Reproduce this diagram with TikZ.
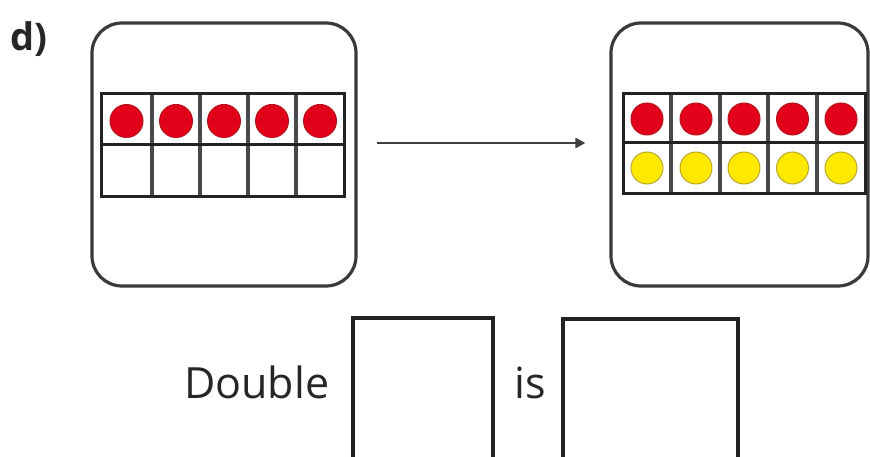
\documentclass[tikz,border=0pt]{standalone}
\usepackage{fontspec}
\setmainfont{Open Sans}
\usetikzlibrary{arrows.meta}
\definecolor{panelline}{HTML}{3A3A3A}
\definecolor{gridline}{HTML}{222222}
\definecolor{innerline}{HTML}{4A4A4A}
\definecolor{redfill}{HTML}{E2001A}
\definecolor{rededge}{HTML}{B5141F}
\definecolor{yelfill}{HTML}{FFE900}
\definecolor{yeledge}{HTML}{B9A731}
\tikzset{
  panel/.style={draw=panelline, line width=3.2pt, rounded corners=30pt, fill=white, inner sep=0pt},
  frame/.style={draw=gridline, line width=3pt},
  divider/.style={draw=innerline, line width=3.4pt},
  redc/.style={circle, fill=redfill, draw=rededge, line width=1pt, minimum size=33pt, inner sep=0pt},
  yelc/.style={circle, fill=yelfill, draw=yeledge, line width=1pt, minimum size=32pt, inner sep=0pt},
  ansbox/.style={draw=gridline, line width=3.2pt, inner sep=0pt},
  bigtext/.style={font=\fontsize{43}{50}\selectfont, text=black!85, inner sep=0pt},
}
\begin{document}
\begin{tikzpicture}[x=1pt,y=-1pt]
\useasboundingbox (0,0) rectangle (870,457);
\clip (0,0) rectangle (870,457);
\fill[white] (0,0) rectangle (870,457);

% label
\node[anchor=base west, font=\bfseries\fontsize{38}{44}\selectfont, text=black!85, inner sep=0pt] (lbl) at (10,51) {d)};

% panels
\node[panel, minimum width=264pt, minimum height=263pt] (p1) at (224,154.5) {};
\node[panel, minimum width=257pt, minimum height=263pt] (p2) at (739.5,154.5) {};

% left ten-frame
\draw[divider] (152,94) -- (152,197) (200,94) -- (200,197) (248,94) -- (248,197) (296,94) -- (296,197);
\draw[frame] (101,145) -- (344,145);
\draw[frame] (101,94) rectangle (344,197);
\foreach \x/\n in {126.5/1,176/2,224/3,272/4,320/5}
  \node[redc] (lr\n) at (\x,121) {};

% right ten-frame
\draw[divider] (671,94) -- (671,194) (720,94) -- (720,194) (768,94) -- (768,194) (817,94) -- (817,194);
\draw[frame] (623,143) -- (865,143);
\draw[frame] (623,94) rectangle (865,194);
\foreach \x/\n in {647/1,696/2,744/3,792.5/4,841/5}{
  \node[redc, minimum size=32pt] (rr\n) at (\x,119) {};
  \node[yelc] (ry\n) at (\x,168) {};
}

% arrow
\draw[draw=black!75, line width=2.6pt, -{Triangle[length=10pt,width=10pt]}]
  ([yshift=11.5pt,xshift=19pt]p1.east) -- ([yshift=11.5pt,xshift=-24pt]p2.west);

% sentence
\node[bigtext, anchor=base west] (dbl) at (184,398) {Double};
\node[ansbox, minimum width=140pt, minimum height=200pt] (b1) at (423,418) {};
\node[bigtext, anchor=base west] (is) at (514,398) {is};
\node[ansbox, minimum width=175pt, minimum height=200pt] (b2) at (650.5,419) {};
\end{tikzpicture}
\end{document}
